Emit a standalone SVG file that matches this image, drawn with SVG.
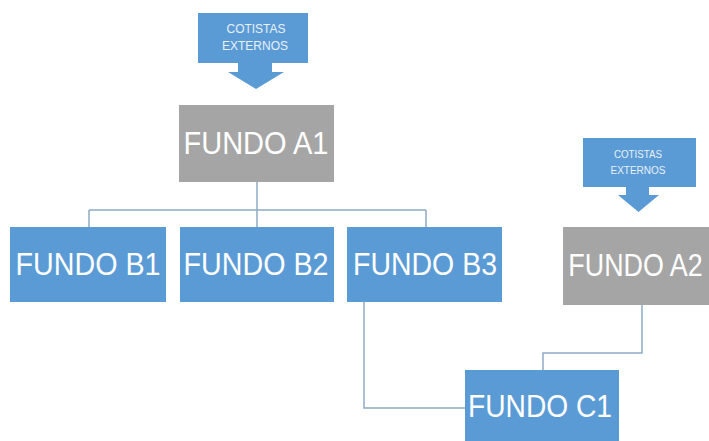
<svg xmlns="http://www.w3.org/2000/svg" width="709" height="441" viewBox="0 0 709 441">
<style>
.blue{fill:#5b9bd5}
.gray{fill:#a5a5a5}
.big{font-family:"Liberation Sans",Arial,sans-serif;font-size:32px;fill:#ffffff;text-anchor:middle}
.small{font-family:"Liberation Sans",Arial,sans-serif;fill:#e8f0f8;text-anchor:middle}
.conn{fill:none;stroke:#8faac4;stroke-width:1.5}
</style>
<rect width="709" height="441" fill="#ffffff"/>
<g id="connectors">
<path class="conn" d="M257 182V210M89 210H426M89 210V227M257 210V227M426 210V227"/>
<path class="conn" d="M364 302V408H465"/>
<path class="conn" d="M642 305V353H543V370"/>
</g>
<g id="cotistas1">
<path class="blue" d="M198 13H308V63H272V72H284L256 89L228 72H238V63H198Z"/>
<text class="small" x="256" y="33" font-size="12" textLength="59" lengthAdjust="spacingAndGlyphs">COTISTAS</text>
<text class="small" x="255" y="50" font-size="12" textLength="66" lengthAdjust="spacingAndGlyphs">EXTERNOS</text>
</g>
<g id="fundoA1">
<rect class="gray" x="179" y="105" width="155" height="77"/>
<text class="big" x="256" y="154" textLength="145" lengthAdjust="spacingAndGlyphs">FUNDO A1</text>
</g>
<g id="fundoB1">
<rect class="blue" x="10" y="227" width="156" height="75"/>
<text class="big" x="88" y="275" textLength="145" lengthAdjust="spacingAndGlyphs">FUNDO B1</text>
</g>
<g id="fundoB2">
<rect class="blue" x="180" y="227" width="154" height="75"/>
<text class="big" x="256" y="275" textLength="145" lengthAdjust="spacingAndGlyphs">FUNDO B2</text>
</g>
<g id="fundoB3">
<rect class="blue" x="347" y="227" width="155" height="75"/>
<text class="big" x="425" y="275" textLength="144" lengthAdjust="spacingAndGlyphs">FUNDO B3</text>
</g>
<g id="cotistas2">
<path class="blue" d="M583 138H696V187H649V195H659L638.5 212L618 195H626V187H583Z"/>
<text class="small" x="638" y="158" font-size="10" textLength="48" lengthAdjust="spacingAndGlyphs">COTISTAS</text>
<text class="small" x="638" y="174" font-size="10" textLength="55" lengthAdjust="spacingAndGlyphs">EXTERNOS</text>
</g>
<g id="fundoA2">
<rect class="gray" x="563" y="227" width="146" height="78"/>
<text class="big" transform="translate(635.5 276) scale(0.84 1)" x="0" y="0">FUNDO A2</text>
</g>
<g id="fundoC1">
<rect class="blue" x="465" y="370" width="154" height="71"/>
<text class="big" x="540" y="417" textLength="144" lengthAdjust="spacingAndGlyphs">FUNDO C1</text>
</g>
</svg>
